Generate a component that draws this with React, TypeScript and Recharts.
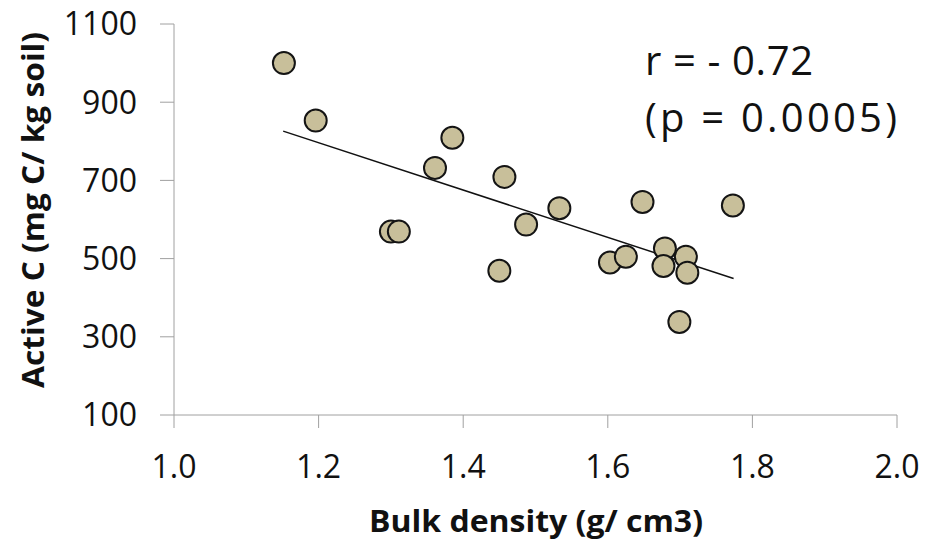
import React from 'react';
import { ScatterChart, Scatter, XAxis, YAxis, ReferenceLine, Customized } from 'recharts';

const bulkDensity = [1.152, 1.196, 1.385, 1.361, 1.457, 1.533, 1.487, 1.300, 1.311, 1.450, 1.648, 1.773, 1.603, 1.625, 1.679, 1.677, 1.708, 1.710, 1.699];
const activeC = [1000, 853, 809, 732, 709, 629, 587, 569, 569, 469, 645, 636, 490, 505, 526, 481, 505, 464, 338];
const trendX = [1.151, 1.774];
const trendY = [826, 449];
const xTicks = [1.0, 1.2, 1.4, 1.6, 1.8, 2.0];
const yTicks = [100, 300, 500, 700, 900, 1100];
const xTitle = 'Bulk density (g/ cm3)';
const yTitle = 'Active C (mg C/ kg soil)';
const statLines = ['r = - 0.72', '(p = 0.0005)'];

const points = bulkDensity.map((x, i) => ({ x, y: activeC[i] }));
const FONT = '"Open Sans", "DejaVu Sans", sans-serif';
const AXIS = '#a0a0a0';

const Dot = (props: any) => {
  const { cx, cy } = props;
  if (cx == null || cy == null) return null;
  return <circle cx={cx} cy={cy} r={11} fill="#c8bf9a" stroke="#141414" strokeWidth={2} />;
};

const Texts = () => (
  <g fontFamily={FONT}>
    <text x={43.5} y={210} transform="rotate(-90, 43.5, 210)" textAnchor="middle" fontSize={30} fontWeight={700} fill="#111" textLength={356} lengthAdjust="spacingAndGlyphs">{yTitle}</text>
    <text x={536} y={532} textAnchor="middle" fontSize={30} fontWeight={700} fill="#111" textLength={334} lengthAdjust="spacingAndGlyphs">{xTitle}</text>
    <text x={645} y={75} fontSize={40} fill="#111" textLength={168} lengthAdjust="spacing">{statLines[0]}</text>
    <text x={645} y={132} fontSize={40} fill="#111" textLength={252} lengthAdjust="spacing">{statLines[1]}</text>
  </g>
);

export default function App() {
  return (
    <div style={{ position: 'absolute', left: 0, top: 0, width: 926, height: 540, background: '#fff' }}>
      <ScatterChart width={926} height={540} margin={{ top: 24, right: 29, left: 0, bottom: 0 }}>
        <XAxis
          type="number"
          dataKey="x"
          domain={[1, 2]}
          ticks={xTicks}
          tickFormatter={(v: number) => v.toFixed(1)}
          height={125}
          tickSize={13}
          tickMargin={27}
          stroke={AXIS}
          axisLine={{ stroke: AXIS }}
          tickLine={{ stroke: AXIS }}
          tick={{ fill: '#111', fontSize: 32, fontFamily: FONT }}
          interval={0}
        />
        <YAxis
          type="number"
          dataKey="y"
          domain={[100, 1100]}
          ticks={yTicks}
          width={174}
          tickSize={14}
          tickMargin={23}
          stroke={AXIS}
          axisLine={{ stroke: AXIS }}
          tickLine={{ stroke: AXIS }}
          tick={{ fill: '#111', fontSize: 32, fontFamily: FONT }}
          interval={0}
        />
        <ReferenceLine
          segment={[{ x: trendX[0], y: trendY[0] }, { x: trendX[1], y: trendY[1] }]}
          stroke="#111"
          strokeWidth={1.5}
          ifOverflow="visible"
        />
        <Scatter data={points} shape={<Dot />} isAnimationActive={false} />
        <Customized component={<Texts />} />
      </ScatterChart>
    </div>
  );
}
